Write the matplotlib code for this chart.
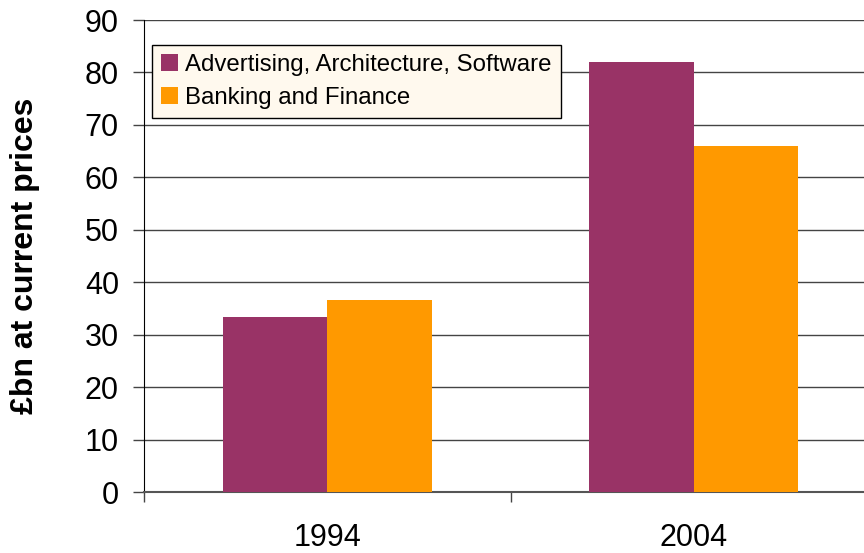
import matplotlib
matplotlib.use("Agg")
import matplotlib.pyplot as plt
import numpy as np

categories = ["1994", "2004"]
series_names = ["Advertising, Architecture, Software", "Banking and Finance"]
adv_values = [33.4, 82.0]
bank_values = [36.6, 66.0]
colors = ["#993366", "#FF9900"]

plt.rcParams['font.family'] = ['Liberation Sans', 'DejaVu Sans']

fig = plt.figure(figsize=(8.64, 5.53), dpi=100)
ax = fig.add_axes([144/864, 1-492/553, (877-144)/864, (492-20)/553])

x = np.arange(len(categories))
w = 1/3.5
ax.bar(x - w/2, adv_values, width=w, color=colors[0], label=series_names[0], zorder=3)
ax.bar(x + w/2, bank_values, width=w, color=colors[1], label=series_names[1], zorder=3)

ax.set_xlim(-0.5, 1.5)
ax.set_ylim(0, 90)
ax.set_yticks(np.arange(0, 91, 10))
ax.yaxis.grid(True, color="#444444", linewidth=1.0, zorder=0)
ax.set_axisbelow(True)

ax.set_xticks([0, 1])
ax.set_xticklabels(categories)
ax.set_xticks([-0.5, 0.5, 1.5], minor=True)
ax.tick_params(axis='x', which='major', length=0, pad=22.5, labelsize=22)
ax.tick_params(axis='x', which='minor', length=7, width=1, color="#444444")
ax.tick_params(axis='y', length=8, width=1, color="#444444", labelsize=22, pad=10)

for s in ["top", "right"]:
    ax.spines[s].set_visible(False)
ax.spines["left"].set_color("black")
ax.spines["bottom"].set_color("#555555")
ax.spines["bottom"].set_linewidth(1.5)

ax.set_ylabel("£bn at current prices", fontsize=23, fontweight="bold")
ax.yaxis.set_label_coords(-(144-40)/733, 0.5)

leg = ax.legend(loc="upper left", bbox_to_anchor=((152-144)/733, (492-45)/472),
                fontsize=17.3, frameon=True, fancybox=False, edgecolor="black",
                facecolor="#FFF9EE", framealpha=1, borderaxespad=0,
                handlelength=0.72, handleheight=0.72, handletextpad=0.28,
                labelspacing=0.45, borderpad=0.38)
leg.get_frame().set_linewidth(1.0)

fig.savefig("out.png", dpi=100)
